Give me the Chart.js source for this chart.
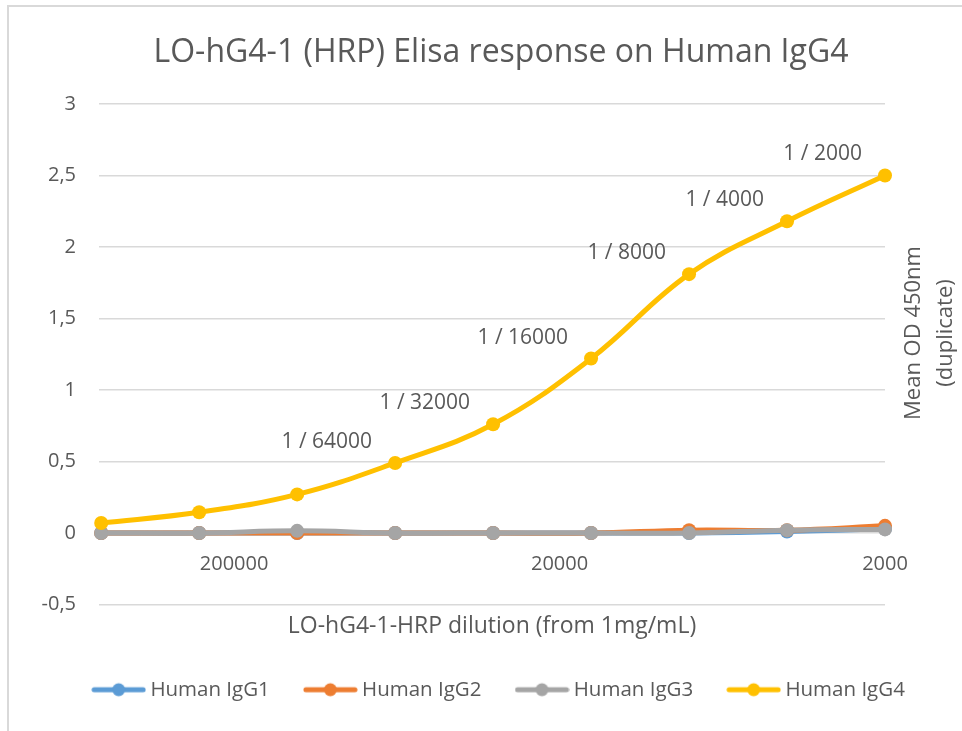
<!DOCTYPE html>
<html>
<head>
<meta charset="utf-8">
<script src="https://cdn.jsdelivr.net/npm/chart.js@4.4.1/dist/chart.umd.min.js"></script>
<style>
  html, body { margin: 0; padding: 0; background: #fff; overflow: hidden; }
  #frame { position: absolute; left: 7px; top: 5px; width: 1000px; height: 800px; border: 2px solid #D9D9D9; box-sizing: border-box; }
  #report { position: absolute; left: 0; top: 0; }
</style>
</head>
<body>
<div id="frame"></div>
<canvas id="report" width="962" height="731"></canvas>
<script>
// dilution factors (1 / n), read left to right
const dilutions = [512000, 256000, 128000, 64000, 32000, 16000, 8000, 4000, 2000];
const seriesNames = ['Human IgG1', 'Human IgG2', 'Human IgG3', 'Human IgG4'];
const igg1 = [0, 0, 0, 0, 0, 0, 0, 0.01, 0.03];
const igg2 = [0, 0, 0, 0, 0, 0, 0.02, 0.02, 0.05];
const igg3 = [0, 0, 0.015, 0, 0, 0, 0, 0.02, 0.025];
const igg4 = [0.07, 0.145, 0.27, 0.49, 0.76, 1.22, 1.81, 2.18, 2.5];
const labelledDilutions = [64000, 32000, 16000, 8000, 4000, 2000];
const xTicks = [200000, 20000, 2000];
const yTicks = [-0.5, 0, 0.5, 1, 1.5, 2, 2.5, 3];
const colors = ['#5B9BD5', '#ED7D31', '#A5A5A5', '#FFC000'];

const textColor = '#595959';
const padLeft = 40;

Chart.defaults.font.family = "'Open Sans', sans-serif";
Chart.defaults.color = textColor;

function legendMark(color) {
  const c = document.createElement('canvas');
  c.width = 55;
  c.height = 16;
  const g = c.getContext('2d');
  g.strokeStyle = color;
  g.lineWidth = 5;
  g.lineCap = 'round';
  g.beginPath();
  g.moveTo(3, 8);
  g.lineTo(52, 8);
  g.stroke();
  g.fillStyle = color;
  g.beginPath();
  g.arc(27.5, 8, 6.5, 0, Math.PI * 2);
  g.fill();
  return c;
}

// dilution labels on the IgG4 curve + the right hand axis title
const annotate = {
  id: 'annotate',
  afterDatasetsDraw(chart) {
    const ctx = chart.ctx;
    const meta = chart.getDatasetMeta(3);
    ctx.save();
    ctx.font = "21px 'Open Sans'";
    ctx.fillStyle = textColor;
    ctx.textAlign = 'right';
    ctx.textBaseline = 'middle';
    dilutions.forEach((d, i) => {
      if (!labelledDilutions.includes(d)) return;
      const pt = meta.data[i];
      ctx.fillText('1 / ' + d, pt.x - 23, pt.y - 21);
    });
    ctx.restore();
  },
  afterDraw(chart) {
    const ctx = chart.ctx;
    const x = chart.chartArea.right;
    ctx.save();
    ctx.font = "22px 'Open Sans'";
    ctx.fillStyle = textColor;
    ctx.textAlign = 'center';
    ctx.textBaseline = 'middle';
    ctx.translate(x + 29, 333);
    ctx.rotate(-Math.PI / 2);
    ctx.fillText('Mean OD 450nm', 0, 0);
    ctx.fillText('(duplicate)', 0, 32);
    ctx.restore();
  }
};

const datasets = [igg1, igg2, igg3, igg4].map((vals, i) => ({
  label: seriesNames[i],
  data: vals.map((v, k) => ({ x: dilutions[k], y: v })),
  borderColor: colors[i],
  backgroundColor: colors[i],
  pointBackgroundColor: colors[i],
  pointBorderColor: colors[i],
  borderWidth: 5,
  pointRadius: 7,
  pointBorderWidth: 0,
  tension: 0.4,
  order: 4 - i,
  clip: false,
  xAxisID: 'x',
  yAxisID: 'y'
}));

new Chart(document.getElementById('report').getContext('2d'), {
  type: 'line',
  data: { datasets },
  plugins: [annotate],
  options: {
    responsive: false,
    animation: false,
    layout: { padding: { left: padLeft, right: 0, top: 0, bottom: 21 } },
    plugins: {
      title: {
        display: true,
        text: 'LO-hG4-1 (HRP) Elisa response on Human IgG4',
        font: { size: 32, weight: 'normal' },
        color: textColor,
        padding: { top: 34, bottom: 31.6 }
      },
      legend: {
        position: 'bottom',
        labels: {
          font: { size: 20.5 },
          color: textColor,
          usePointStyle: true,
          pointStyleWidth: 43,
          padding: 39,
          generateLabels: chart => chart.data.datasets.map((ds, i) => ({
            text: ds.label,
            pointStyle: legendMark(colors[i]),
            fillStyle: colors[i],
            strokeStyle: colors[i],
            lineWidth: 0,
            fontColor: textColor,
            hidden: false,
            datasetIndex: i
          }))
        }
      },
      tooltip: { enabled: false }
    },
    scales: {
      x: {
        type: 'logarithmic',
        position: { y: 0 },
        reverse: true,
        min: 2000,
        max: 520000,
        grid: { display: false },
        border: { display: false },
        afterBuildTicks: scale => { scale.ticks = xTicks.map(v => ({ value: v })); },
        ticks: {
          font: { size: 20 },
          color: textColor,
          padding: 11,
          maxRotation: 0,
          callback: v => String(v)
        }
      },
      x2: {
        type: 'linear',
        position: 'bottom',
        grid: { display: false },
        border: { display: false },
        ticks: { display: false },
        title: {
          display: true,
          text: 'LO-hG4-1-HRP dilution (from 1mg/mL)',
          font: { size: 23 },
          color: textColor,
          padding: { top: 0, bottom: 0 }
        },
        afterFit: scale => { scale.height = 36; }
      },
      y: {
        type: 'linear',
        position: 'left',
        min: -0.5,
        max: 3,
        grid: { color: '#D9D9D9', lineWidth: 1.5, drawTicks: false },
        border: { display: false },
        afterBuildTicks: scale => { scale.ticks = yTicks.map(v => ({ value: v })); },
        ticks: {
          font: { size: 20 },
          color: textColor,
          padding: 23,
          callback: v => String(v).replace('.', ',')
        },
        afterFit: scale => { scale.width = 99 - padLeft; }
      },
      yR: {
        type: 'linear',
        position: 'right',
        grid: { display: false },
        border: { display: false },
        ticks: { display: false },
        afterFit: scale => { scale.width = 77; }
      }
    }
  }
});
</script>
</body>
</html>
